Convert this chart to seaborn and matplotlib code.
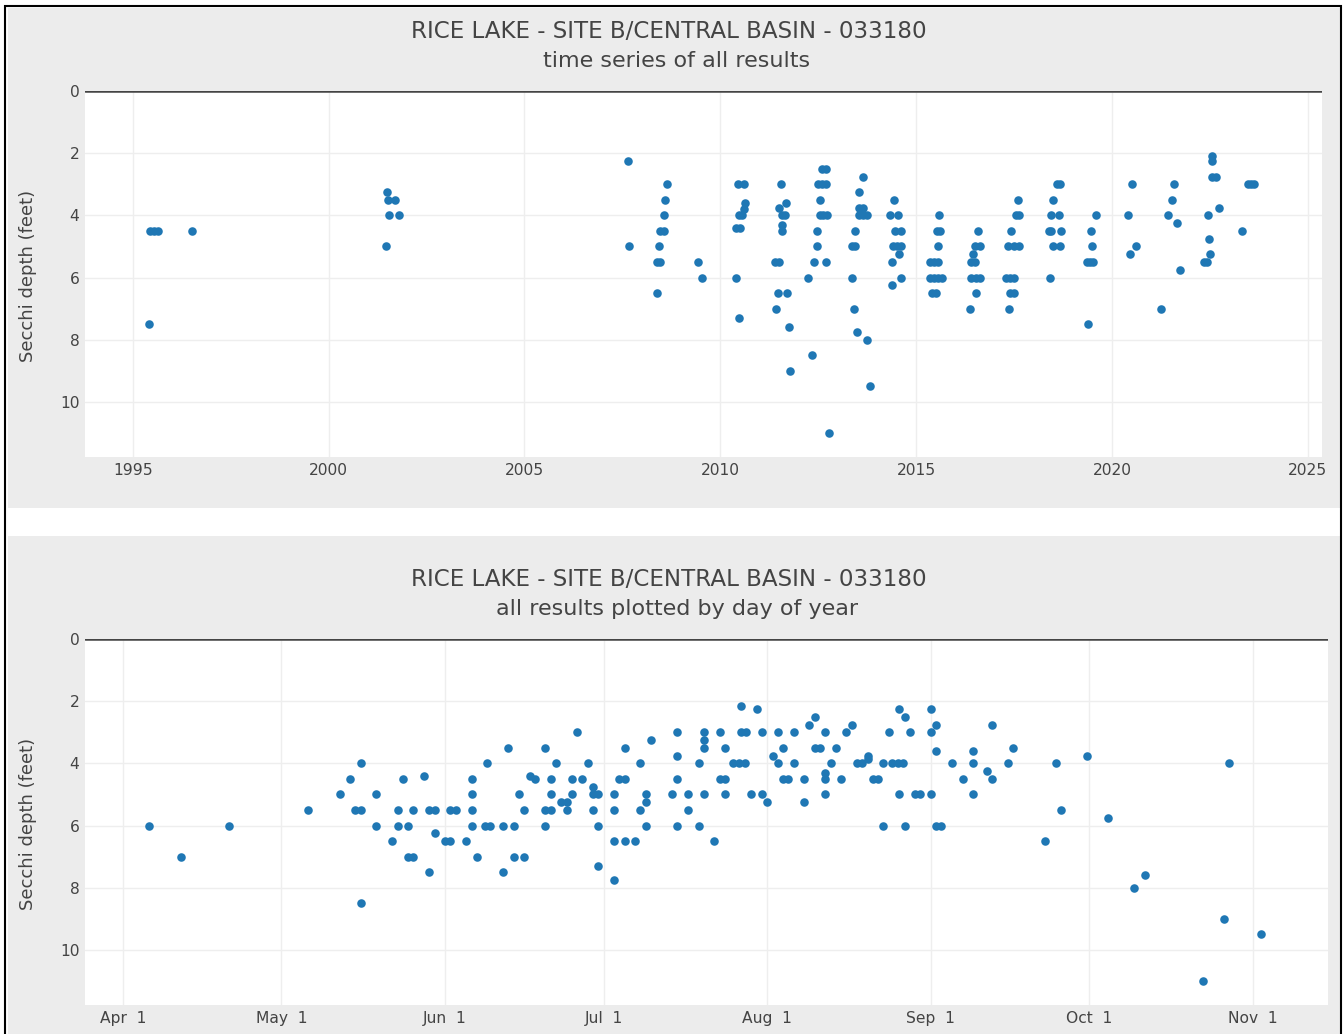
import matplotlib
matplotlib.use("Agg")
import matplotlib.pyplot as plt
from matplotlib.patches import Rectangle
import seaborn as sns
import pandas as pd

# TIME SERIES (decimal year, Secchi depth in feet)
ts_year = [
    1995.42, 1995.45, 1995.55, 1995.65, 1996.50,
    2001.46, 2001.49, 2001.52, 2001.70, 2001.54, 2001.80,
    2007.63, 2007.66,
    2008.64, 2008.59, 2008.55, 2008.45, 2008.55, 2008.43, 2008.38, 2008.45, 2008.39,
    2009.44, 2009.53,
    2010.45, 2010.60, 2010.64, 2010.60, 2010.48, 2010.56, 2010.40, 2010.50, 2010.40, 2010.47,
    2011.54, 2011.67, 2011.50, 2011.57, 2011.65, 2011.58, 2011.57, 2011.40, 2011.50,
    2011.47, 2011.70, 2011.43, 2011.75, 2011.79,
    2012.60, 2012.70, 2012.50, 2012.60, 2012.70, 2012.54, 2012.55, 2012.63, 2012.72,
    2012.46, 2012.47, 2012.40, 2012.71, 2012.23, 2012.35, 2012.78,
    2013.65, 2013.53, 2013.55, 2013.65, 2013.55, 2013.65, 2013.75, 2013.43, 2013.35,
    2013.45, 2013.37, 2013.42, 2013.48, 2013.75, 2013.82,
    2014.44, 2014.34, 2014.54, 2014.46, 2014.60, 2014.40, 2014.50, 2014.62, 2014.57,
    2014.37, 2014.62, 2014.38,
    2015.57, 2015.52, 2015.62, 2015.56, 2015.35, 2015.45, 2015.55, 2015.35, 2015.45,
    2015.55, 2015.65, 2015.40, 2015.50,
    2016.58, 2016.50, 2016.62, 2016.45, 2016.40, 2016.50, 2016.40, 2016.52, 2016.63,
    2016.52, 2016.37,
    2017.59, 2017.55, 2017.62, 2017.43, 2017.35, 2017.50, 2017.62, 2017.30, 2017.40,
    2017.50, 2017.40, 2017.50, 2017.37,
    2018.60, 2018.68, 2018.48, 2018.45, 2018.65, 2018.38, 2018.45, 2018.70, 2018.50,
    2018.68, 2018.42,
    2019.58, 2019.45, 2019.50, 2019.35, 2019.43, 2019.52, 2019.38,
    2020.52, 2020.41, 2020.60, 2020.45,
    2021.58, 2021.53, 2021.44, 2021.67, 2021.74, 2021.25,
    2022.54, 2022.54, 2022.55, 2022.65, 2022.72, 2022.44, 2022.47, 2022.50, 2022.35, 2022.42,
    2023.33, 2023.48, 2023.56, 2023.63,
]
ts_depth = [
    7.5, 4.5, 4.5, 4.5, 4.5,
    5.0, 3.25, 3.5, 3.5, 4.0, 4.0,
    2.25, 5.0,
    3.0, 3.5, 4.0, 4.5, 4.5, 5.0, 5.5, 5.5, 6.5,
    5.5, 6.0,
    3.0, 3.0, 3.6, 3.8, 4.0, 4.0, 4.4, 4.4, 6.0, 7.3,
    3.0, 3.6, 3.75, 4.0, 4.0, 4.3, 4.5, 5.5, 5.5,
    6.5, 6.5, 7.0, 7.6, 9.0,
    2.5, 2.5, 3.0, 3.0, 3.0, 3.5, 4.0, 4.0, 4.0,
    4.5, 5.0, 5.5, 5.5, 6.0, 8.5, 11.0,
    2.75, 3.25, 3.75, 3.75, 4.0, 4.0, 4.0, 4.5, 5.0,
    5.0, 6.0, 7.0, 7.75, 8.0, 9.5,
    3.5, 4.0, 4.0, 4.5, 4.5, 5.0, 5.0, 5.0, 5.25,
    5.5, 6.0, 6.25,
    4.0, 4.5, 4.5, 5.0, 5.5, 5.5, 5.5, 6.0, 6.0,
    6.0, 6.0, 6.5, 6.5,
    4.5, 5.0, 5.0, 5.25, 5.5, 5.5, 6.0, 6.0, 6.0,
    6.5, 7.0,
    3.5, 4.0, 4.0, 4.5, 5.0, 5.0, 5.0, 6.0, 6.0,
    6.0, 6.5, 6.5, 7.0,
    3.0, 3.0, 3.5, 4.0, 4.0, 4.5, 4.5, 4.5, 5.0,
    5.0, 6.0,
    4.0, 4.5, 5.0, 5.5, 5.5, 5.5, 7.5,
    3.0, 4.0, 5.0, 5.25,
    3.0, 3.5, 4.0, 4.25, 5.75, 7.0,
    2.1, 2.25, 2.75, 2.75, 3.75, 4.0, 4.75, 5.25, 5.5, 5.5,
    4.5, 3.0, 3.0, 3.0,
]

# DAY OF YEAR (day number, Secchi depth in feet)
doy_day = [
    96, 102, 111, 126, 132, 134, 136, 135, 136, 136, 139, 139, 142, 143, 144, 143,
    145, 145, 146, 146, 148, 149, 150, 149, 150, 152, 153, 153, 154,
    157, 157, 157, 157, 156, 158, 160, 159.5, 160.5, 163, 165, 163, 164, 165, 167,
    166, 167, 168, 169, 171, 171, 172, 171, 172, 172, 173, 174, 175, 175,
    176, 176, 177, 178, 179, 180, 180, 181, 180, 181, 181,
    184, 184, 184, 184, 186, 185, 186, 186, 188, 189, 189, 190, 190, 190, 191,
    195, 196, 196, 196, 196, 198, 198, 200, 200, 201, 201, 201, 201, 203,
    204, 205, 204, 205, 205, 206.6, 207.7, 208.8, 208, 208, 209, 210, 211, 212, 212, 213,
    214, 215, 215, 216, 216, 217, 218, 218, 220, 220, 221, 222, 222, 223,
    224, 225, 224, 224, 224, 226, 227, 228, 229, 230, 231, 232, 232, 233, 234,
    235, 235, 236, 236.6, 237.7, 238.7, 238, 239, 240, 238, 239, 241, 242,
    244, 244, 245, 245, 244, 245, 246, 248, 250, 252, 252, 252,
    254.6, 255.6, 255.6, 258.6, 259.6, 265.6, 267.6, 268.6,
    273.6, 277.6, 282.5, 284.6, 295.5, 299.5, 300.5, 306.5,
]
doy_depth = [
    6.0, 7.0, 6.0, 5.5, 5.0, 4.5, 4.0, 5.5, 5.5, 8.5, 5.0, 6.0, 6.5, 5.5, 4.5, 6.0,
    6.0, 7.0, 7.0, 5.5, 4.4, 7.5, 6.25, 5.5, 5.5, 6.5, 6.5, 5.5, 5.5,
    4.5, 5.0, 5.5, 6.0, 6.5, 7.0, 4.0, 6.0, 6.0, 6.0, 6.0, 7.5, 3.5, 7.0, 7.0,
    5.0, 5.5, 4.4, 4.5, 3.5, 5.5, 5.5, 6.0, 4.5, 5.0, 4.0, 5.25, 5.25, 5.5,
    4.5, 5.0, 3.0, 4.5, 4.0, 4.75, 5.0, 5.0, 5.5, 6.0, 7.3,
    5.0, 5.5, 6.5, 7.75, 3.5, 4.5, 4.5, 6.5, 6.5, 4.0, 5.5, 5.0, 5.25, 6.0, 3.25,
    5.0, 3.0, 3.75, 4.5, 6.0, 5.0, 5.5, 4.0, 6.0, 3.0, 3.25, 3.5, 5.0, 6.5,
    3.0, 3.5, 4.5, 4.5, 5.0, 4.0, 4.0, 4.0, 2.15, 3.0, 3.0, 5.0, 2.25, 3.0, 5.0, 5.25,
    3.75, 3.0, 4.0, 3.5, 4.5, 4.5, 3.0, 4.0, 4.5, 5.25, 2.75, 2.5, 3.5, 3.5,
    3.0, 4.0, 4.3, 4.5, 5.0, 3.5, 4.5, 3.0, 2.75, 4.0, 4.0, 3.75, 3.85, 4.5, 4.5,
    4.0, 6.0, 3.0, 4.0, 4.0, 4.0, 2.25, 2.5, 3.0, 5.0, 6.0, 5.0, 5.0,
    2.25, 3.0, 2.75, 3.6, 5.0, 6.0, 6.0, 4.0, 4.5, 3.6, 4.0, 5.0,
    4.25, 4.5, 2.75, 4.0, 3.5, 6.5, 4.0, 5.5,
    3.75, 5.75, 8.0, 7.6, 11.0, 9.0, 4.0, 9.5,
]

year_ticks = [1995, 2000, 2005, 2010, 2015, 2020, 2025]
month_ticks = [91, 121, 152, 182, 213, 244, 274, 305]
month_labels = ["Apr  1", "May  1", "Jun  1", "Jul  1", "Aug  1", "Sep  1", "Oct  1", "Nov  1"]
depth_ticks = [0, 2, 4, 6, 8, 10]

station = "RICE LAKE - SITE B/CENTRAL BASIN - 033180"

df_ts = pd.DataFrame({"year": ts_year, "depth": ts_depth})
df_doy = pd.DataFrame({"day": doy_day, "depth": doy_depth})

sns.set_theme(style="white")
plt.rcParams["font.family"] = ["DejaVu Sans"]

W, H = 1343, 1034
fig = plt.figure(figsize=(W / 100, H / 100), dpi=100)
fig.patch.set_facecolor("white")

# gray paper panels + document frame
for y0, y1 in [(8, 508), (536, 1034)]:
    fig.add_artist(Rectangle((8 / W, 1 - y1 / H), 1332 / W, (y1 - y0) / H,
                             transform=fig.transFigure, facecolor="#ececec",
                             edgecolor="none", zorder=0))
fig.add_artist(Rectangle((5 / W, -0.01), 1336 / W, 1.01 - 6 / H,
                         transform=fig.transFigure, facecolor="none",
                         edgecolor="black", lw=1.5, zorder=1))

ax1 = fig.add_axes([85 / W, 1 - 457 / H, 1237 / W, 366 / H])
ax2 = fig.add_axes([85 / W, 1 - 1005 / H, 1243 / W, 366 / H])

sns.scatterplot(data=df_ts, x="year", y="depth", ax=ax1, color="#1f77b4",
                s=38, linewidth=0, zorder=3)
sns.scatterplot(data=df_doy, x="day", y="depth", ax=ax2, color="#1f77b4",
                s=38, linewidth=0, zorder=3)

ax1.set_xlim(1993.78, 2025.36)
ax1.set_xticks(year_ticks)
ax2.set_xlim(83.8, 319.2)
ax2.set_xticks(month_ticks)
ax2.set_xticklabels(month_labels)

for ax in (ax1, ax2):
    ax.set_facecolor("white")
    ax.set_ylim(11.77, 0)
    ax.set_yticks(depth_ticks)
    ax.grid(True, color="#eeeeee", lw=1)
    ax.set_axisbelow(True)
    ax.axhline(0, color="#444444", lw=1.8, zorder=2)
    for sp in ax.spines.values():
        sp.set_visible(False)
    ax.tick_params(length=0, labelsize=11.2, labelcolor="#444444")
    ax.tick_params(axis="y", pad=4)
    ax.tick_params(axis="x", pad=4)
    ax.set_xlabel("")
    ax.set_ylabel("")

for y_mid in (276, 824):
    fig.text(28 / W, 1 - y_mid / H, "Secchi depth (feet)", rotation=90,
             ha="center", va="center", fontsize=13, color="#444444")

fig.text(669 / W, 1 - 32 / H, station, ha="center", va="center", fontsize=16.6, color="#444444")
fig.text(677 / W, 1 - 61 / H, "time series of all results", ha="center", va="center",
         fontsize=16, color="#444444")
fig.text(669 / W, 1 - 580 / H, station, ha="center", va="center", fontsize=16.6, color="#444444")
fig.text(677 / W, 1 - 609 / H, "all results plotted by day of year", ha="center", va="center",
         fontsize=16, color="#444444")

fig.savefig("out.png", dpi=100)
